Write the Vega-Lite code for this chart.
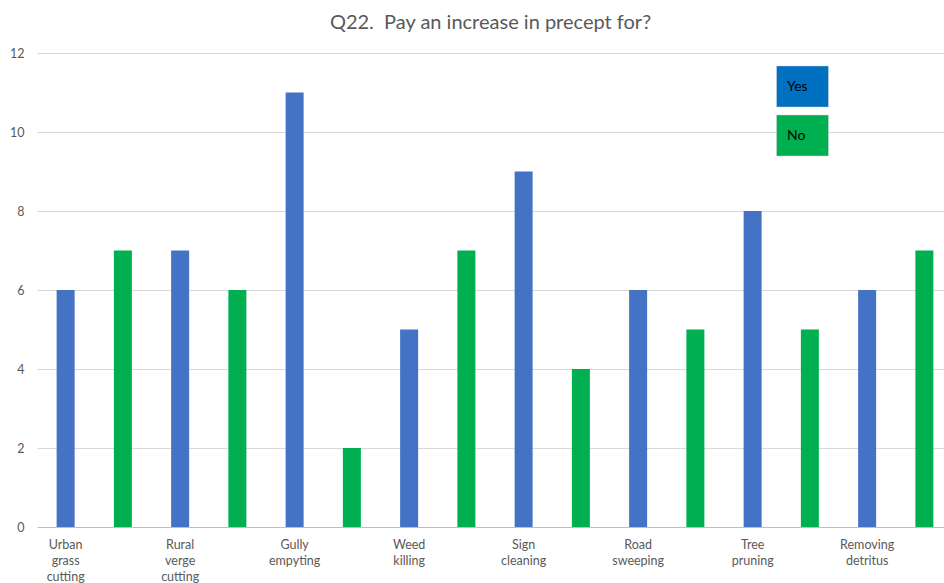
{
  "$schema": "https://vega.github.io/schema/vega-lite/v6.json",
  "width": 907,
  "height": 474,
  "autosize": {"type": "none"},
  "padding": {"left": 37, "top": 53, "right": 0, "bottom": 56},
  "background": "white",
  "title": {
    "text": "Q22.\u00a0 Pay an increase in precept for?",
    "font": "Lato",
    "fontSize": 20,
    "fontWeight": "normal",
    "color": "#595959",
    "anchor": "middle",
    "offset": 14
  },
  "data": {
    "values": [
      {"item": "Urban grass cutting", "answer": "Yes", "count": 6},
      {"item": "Urban grass cutting", "answer": "No", "count": 7},
      {"item": "Rural verge cutting", "answer": "Yes", "count": 7},
      {"item": "Rural verge cutting", "answer": "No", "count": 6},
      {"item": "Gully empyting", "answer": "Yes", "count": 11},
      {"item": "Gully empyting", "answer": "No", "count": 2},
      {"item": "Weed killing", "answer": "Yes", "count": 5},
      {"item": "Weed killing", "answer": "No", "count": 7},
      {"item": "Sign cleaning", "answer": "Yes", "count": 9},
      {"item": "Sign cleaning", "answer": "No", "count": 4},
      {"item": "Road sweeping", "answer": "Yes", "count": 6},
      {"item": "Road sweeping", "answer": "No", "count": 5},
      {"item": "Tree pruning", "answer": "Yes", "count": 8},
      {"item": "Tree pruning", "answer": "No", "count": 5},
      {"item": "Removing detritus", "answer": "Yes", "count": 6},
      {"item": "Removing detritus", "answer": "No", "count": 7}
    ]
  },
  "encoding": {
    "x": {
      "field": "item",
      "type": "nominal",
      "sort": null,
      "scale": {"range": [0, 916], "paddingInner": 0, "paddingOuter": 0},
      "axis": {
        "title": null,
        "labelAngle": 0,
        "labelOffset": -28.6,
        "labelExpr": "split(datum.label, ' ')",
        "labelFont": "Lato",
        "labelFontSize": 12.5,
        "labelColor": "#595959",
        "labelLineHeight": 16,
        "labelPadding": 11,
        "labelBaseline": "top",
        "ticks": false,
        "domain": false,
        "grid": false
      }
    },
    "xOffset": {
      "field": "answer",
      "type": "nominal",
      "sort": ["Yes", "No"],
      "scale": {"paddingInner": 0, "paddingOuter": 0}
    },
    "y": {
      "field": "count",
      "type": "quantitative",
      "scale": {"domain": [0, 12]},
      "axis": {
        "title": null,
        "values": [0, 2, 4, 6, 8, 10, 12],
        "labelFont": "Lato",
        "labelFontSize": 12.5,
        "labelColor": "#595959",
        "labelPadding": 13,
        "ticks": false,
        "domain": false,
        "gridColor": {"condition": {"test": "datum.value === 0", "value": "#bfbfbf"}, "value": "#d9d9d9"},
        "gridWidth": 1.2
      }
    }
  },
  "layer": [
    {
      "mark": {"type": "bar", "width": 18},
      "encoding": {
        "color": {
          "field": "answer",
          "type": "nominal",
          "sort": ["Yes", "No"],
          "scale": {"range": ["#4472C4", "#00B050"]},
          "legend": null
        }
      }
    },
    {
      "mark": {"type": "bar", "width": 0.01, "strokeWidth": 0},
      "encoding": {
        "fill": {
          "field": "answer",
          "type": "nominal",
          "scale": {"domain": ["Yes", "No"], "range": ["#0070C0", "#00B050"]},
          "legend": {
            "title": null,
            "orient": "none",
            "legendX": 739,
            "legendY": 7,
            "padding": 0,
            "rowPadding": -14,
            "symbolType": "M-1,-0.79L1,-0.79L1,0.79L-1,0.79Z",
            "symbolSize": 2704,
            "symbolStrokeWidth": 0.5,
            "symbolStrokeColor": "#d9d9d9",
            "symbolOpacity": 1,
            "labelOffset": -42,
            "labelFont": "Lato",
            "labelFontSize": 14,
            "labelColor": "#000000"
          }
        }
      }
    }
  ],
  "config": {"view": {"stroke": null}}
}
